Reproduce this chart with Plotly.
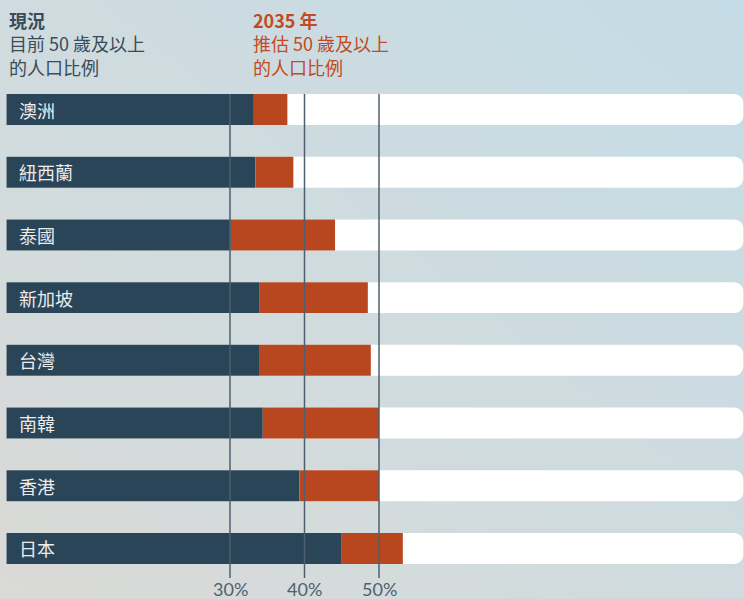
import plotly.graph_objects as go

# ---- data ----
countries = ["澳洲", "紐西蘭", "泰國", "新加坡", "台灣", "南韓", "香港", "日本"]
current_pct = [33.2, 33.4, 30.1, 33.9, 34.0, 34.4, 39.3, 45.0]
proj_2035_pct = [37.7, 38.5, 44.1, 48.5, 48.9, 50.0, 50.0, 53.2]
track_max = [98.9] * len(countries)
grid_vals = [30, 40, 50]
grid_labels = ["30%", "40%", "50%"]

W, H = 744, 599
FONT = "Noto Sans CJK TC, Noto Sans, sans-serif"
NAVY = "#2a4558"
ORANGE = "#b8471f"
HEAD_DARK = "#3a4b59"
HEAD_ORANGE = "#c24a22"

fig = go.Figure()

# gradient background on x/y
fig.add_trace(go.Heatmap(
    x=[0, 1], y=[0, 1],
    z=[[1.0, 0.5], [0.5, 0.0]],
    colorscale=[[0, "#c4dce6"], [1, "#dadad7"]],
    zsmooth="best", showscale=False, hoverinfo="skip",
    xaxis="x", yaxis="y",
))

# bars on x2/y2
fig.add_trace(go.Bar(
    y=countries, x=track_max, orientation="h",
    marker=dict(color="#ffffff", cornerradius=9, line=dict(width=0)),
    width=0.494, xaxis="x2", yaxis="y2", hoverinfo="skip",
))
fig.add_trace(go.Bar(
    y=countries, x=current_pct, orientation="h",
    marker=dict(color=NAVY, line=dict(width=0)),
    width=0.494, xaxis="x2", yaxis="y2",
))
fig.add_trace(go.Bar(
    y=countries, x=[p - c for p, c in zip(proj_2035_pct, current_pct)],
    base=current_pct, orientation="h",
    marker=dict(color=ORANGE, line=dict(width=0)),
    width=0.494, xaxis="x2", yaxis="y2",
))

n = len(countries)
px_per_cat = 62.71
top_center = 109.5
y_top = -top_center / px_per_cat
y_bot = (n - 1) + (H - (top_center + (n - 1) * px_per_cat)) / px_per_cat

px_per_pct = 7.45
x0_px = 6.5
x_lo = -x0_px / px_per_pct
x_hi = (W - x0_px) / px_per_pct

# grid lines
for v in grid_vals:
    fig.add_shape(type="line", xref="x2", yref="y2",
                  x0=v, x1=v, y0=-0.247, y1=(578 - top_center) / px_per_cat,
                  line=dict(color="#4e606e", width=1.5), layer="above")

annotations = []
for v, lab in zip(grid_vals, grid_labels):
    annotations.append(dict(x=v, xref="x2", y=1 - 588.5 / H, yref="paper",
                            text=lab, showarrow=False, xanchor="center", yanchor="middle",
                            borderpad=0,
                            font=dict(family="Lato, Noto Sans, sans-serif", size=18,
                                      color="#4e6170")))
for c in countries:
    annotations.append(dict(x=17 / W, xref="paper", y=c, yref="y2", text=c,
                            showarrow=False, xanchor="left", yanchor="middle",
                            font=dict(family=FONT, size=18, color="#ececec")))

head_left = ["<b>現況</b>", "目前 50 歲及以上", "的人口比例"]
head_right = ["<b>2035 年</b>", "推估 50 歲及以上", "的人口比例"]
annotations.append(dict(x=7 / W, xref="paper", y=1 - 43.5 / H, yref="paper",
                        text="<br>".join(head_left), align="left",
                        showarrow=False, xanchor="left", yanchor="middle",
                        font=dict(family=FONT, size=18, color=HEAD_DARK)))
annotations.append(dict(x=251 / W, xref="paper", y=1 - 43.5 / H, yref="paper",
                        text="<br>".join(head_right), align="left",
                        showarrow=False, xanchor="left", yanchor="middle",
                        font=dict(family=FONT, size=18, color=HEAD_ORANGE)))

fig.update_layout(
    width=W, height=H,
    margin=dict(l=0, r=0, t=0, b=0, pad=0),
    paper_bgcolor="#cfdadd", plot_bgcolor="rgba(0,0,0,0)",
    showlegend=False, barmode="overlay",
    xaxis=dict(range=[0, 1], visible=False, domain=[0, 1]),
    yaxis=dict(range=[0, 1], visible=False, domain=[0, 1]),
    xaxis2=dict(range=[x_lo, x_hi], visible=False, overlaying="x", domain=[0, 1]),
    yaxis2=dict(range=[y_bot, y_top], visible=False, overlaying="y", domain=[0, 1],
                type="category", categoryorder="array", categoryarray=countries),
    annotations=annotations,
)

fig.write_html("out.html", config={"displayModeBar": False},
               post_script="document.body.style.margin='0px';")
